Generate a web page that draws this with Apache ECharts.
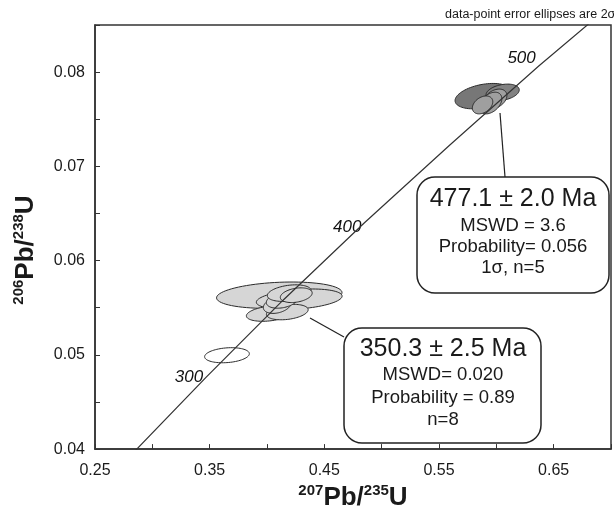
<!DOCTYPE html>
<html>
<head>
<meta charset="utf-8">
<script src="https://cdn.jsdelivr.net/npm/echarts@6/dist/echarts.min.js"></script>
<style>
  html, body { margin: 0; padding: 0; background: #fff; }
  #concordia { width: 614px; height: 516px; }
</style>
</head>
<body>
<div id="concordia"></div>
<script>
  // concordia curve: age (Ma), 207Pb/235U, 206Pb/238U
  var concAge = [250, 300, 350, 400, 450, 500, 550]
  var concX = [0.2828, 0.3470, 0.4140, 0.4850, 0.5597, 0.6370, 0.7189]
  var concY = [0.03954, 0.04764, 0.05580, 0.06402, 0.07230, 0.08065, 0.08906]
  var labelAges = [300, 400, 500]

  // 350 Ma group (n=8): centre, half width, half height, correlation
  var youngX = [0.4107, 0.4281, 0.4020, 0.4177, 0.4090, 0.4133, 0.4194, 0.4255]
  var youngY = [0.05633, 0.05591, 0.05438, 0.05454, 0.05528, 0.05581, 0.05655, 0.05633]
  var youngSx = [0.0547, 0.0374, 0.0200, 0.0182, 0.0122, 0.0139, 0.0191, 0.0139]
  var youngSy = [0.00140, 0.00108, 0.00082, 0.00082, 0.00088, 0.00086, 0.00088, 0.00078]
  var youngRho = [0.2, 0.3, 0.3, 0.3, 0.3, 0.3, 0.3, 0.3]

  // 477 Ma group (n=5)
  var oldX = [0.5885, 0.6055, 0.5990, 0.5950, 0.5880]
  var oldY = [0.07745, 0.07785, 0.07715, 0.07672, 0.07652]
  var oldSx = [0.0245, 0.0145, 0.0102, 0.0098, 0.0089]
  var oldSy = [0.00135, 0.00088, 0.00105, 0.00115, 0.00095]
  var oldRho = [0.35, 0.3, 0.35, 0.4, 0.35]

  // analysis left out of both ages
  var outX = [0.3651]
  var outY = [0.04996]
  var outSx = [0.0195]
  var outSy = [0.00080]
  var outRho = [0.2]

  var font = "'Liberation Sans', Arial, sans-serif"
  var ink = '#1a1a1a'

  var myChart = echarts.init(document.getElementById('concordia'))

  function ellipses(xs, ys, sxs, sys, rhos, fills) {
    var data = []
    for (var i = 0; i < xs.length; i++) {
      data.push([xs[i], ys[i], sxs[i], sys[i], rhos[i]])
    }
    return {
      type: 'custom',
      silent: true,
      encode: {x: 0, y: 1},
      data: data,
      renderItem: function (params, api) {
        var cx = api.value(0), cy = api.value(1)
        var sx = api.value(2), sy = api.value(3), r = api.value(4)
        var pts = []
        for (var k = 0; k < 80; k++) {
          var t = k / 80 * Math.PI * 2
          pts.push(api.coord([cx + sx * Math.cos(t),
            cy + sy * (r * Math.cos(t) + Math.sqrt(1 - r * r) * Math.sin(t))]))
        }
        return {
          type: 'polygon',
          shape: {points: pts},
          style: {fill: fills[params.dataIndex], stroke: '#2a2a2a', lineWidth: 1}
        }
      }
    }
  }

  function box(x, y, w, h, cx, lines) {
    var els = [{
      type: 'rect',
      shape: {x: x, y: y, width: w, height: h, r: 18},
      style: {fill: '#fff', stroke: '#222', lineWidth: 1.5}
    }]
    lines.forEach(function (l) {
      els.push({
        type: 'text', x: cx, y: l[2],
        style: {text: l[0], fontSize: l[1], fontFamily: font, fill: ink,
          align: 'center', verticalAlign: 'middle'}
      })
    })
    return els
  }

  var concData = concX.map(function (x, i) { return [x, concY[i]] })
  var ageData = []
  labelAges.forEach(function (a) {
    var i = concAge.indexOf(a)
    ageData.push([concX[i], concY[i], a])
  })
  var ageOffset = {300: [0, 0], 400: [0, 5], 500: [0, -8]}

  var axisName = {
    sup: {fontSize: 15, fontWeight: 'bold', fontFamily: font, color: ink, verticalAlign: 'top', lineHeight: 30},
    b: {fontSize: 26, fontWeight: 'bold', fontFamily: font, color: ink, lineHeight: 30}
  }

  var option = {
    animation: false,
    grid: {
      left: 95, top: 25, width: 518, height: 427,
      show: true, borderColor: '#333', borderWidth: 1.5
    },
    xAxis: {
      type: 'value', min: 0.25, max: 0.70, interval: 0.05,
      name: '{sup|207}{b|Pb/}{sup|235}{b|U}',
      nameLocation: 'middle', nameGap: 33,
      nameTextStyle: {rich: axisName},
      axisLine: {lineStyle: {color: '#333', width: 1.5}},
      axisTick: {inside: true, length: 5, lineStyle: {color: '#333'}},
      splitLine: {show: false},
      axisLabel: {
        fontSize: 16, fontFamily: font, color: ink, margin: 13,
        formatter: function (v) { return Math.round(v * 100) % 10 === 5 ? v.toFixed(2) : '' }
      }
    },
    yAxis: {
      type: 'value', min: 0.04, max: 0.085, interval: 0.005,
      name: '{sup|206}{b|Pb/}{sup|238}{b|U}',
      nameLocation: 'middle', nameGap: 54, nameRotate: 90,
      nameTextStyle: {rich: axisName, padding: [0, 26, 0, 0]},
      axisLine: {lineStyle: {color: '#333', width: 1.5}},
      axisTick: {inside: true, length: 5, lineStyle: {color: '#333'}},
      splitLine: {show: false},
      axisLabel: {
        fontSize: 16, fontFamily: font, color: ink, margin: 10,
        formatter: function (v) { return Math.round(v * 1000) % 10 === 0 ? v.toFixed(2) : '' }
      }
    },
    series: [
      {
        type: 'line',
        data: concData,
        showSymbol: false,
        silent: true,
        lineStyle: {color: '#333', width: 1.2}
      },
      {
        type: 'scatter',
        symbolSize: 0,
        silent: true,
        itemStyle: {opacity: 1},
        data: ageData.map(function (d) {
          return {value: d, label: {offset: ageOffset[d[2]]}}
        }),
        label: {
          show: true, position: 'left', distance: 3,
          fontSize: 17, fontStyle: 'italic', fontFamily: font, color: '#111',
          formatter: function (p) { return p.value[2] }
        }
      },
      ellipses(outX, outY, outSx, outSy, outRho, ['#ffffff']),
      ellipses(youngX, youngY, youngSx, youngSy, youngRho,
        ['#d6d6d6', '#d6d6d6', '#d6d6d6', '#d6d6d6', '#d6d6d6', '#d6d6d6', '#d6d6d6', '#d6d6d6']),
      ellipses(oldX, oldY, oldSx, oldSy, oldRho,
        ['#777777', '#828282', '#9f9f9f', '#9f9f9f', '#9f9f9f'])
    ],
    graphic: [
      {
        type: 'text', x: 445, y: 21,
        style: {text: 'data-point error ellipses are 2σ', fontSize: 12.5, fontFamily: font,
          fill: ink, verticalAlign: 'bottom'}
      },
      {type: 'line', shape: {x1: 500, y1: 113, x2: 505, y2: 177}, style: {stroke: '#222', lineWidth: 1.2}},
      {type: 'line', shape: {x1: 310, y1: 318, x2: 344, y2: 337}, style: {stroke: '#222', lineWidth: 1.2}}
    ].concat(
      box(417, 177, 192, 116, 513, [
        ['477.1 ± 2.0 Ma', 25, 199],
        ['MSWD = 3.6', 18.5, 226],
        ['Probability= 0.056', 18.5, 247],
        ['1σ, n=5', 18.5, 268]
      ]),
      box(344, 328, 197, 115, 443, [
        ['350.3 ± 2.5 Ma', 25, 349],
        ['MSWD= 0.020', 18.5, 375],
        ['Probability = 0.89', 18.5, 398],
        ['n=8', 18.5, 420]
      ])
    )
  }

  myChart.setOption(option)
</script>
</body>
</html>
